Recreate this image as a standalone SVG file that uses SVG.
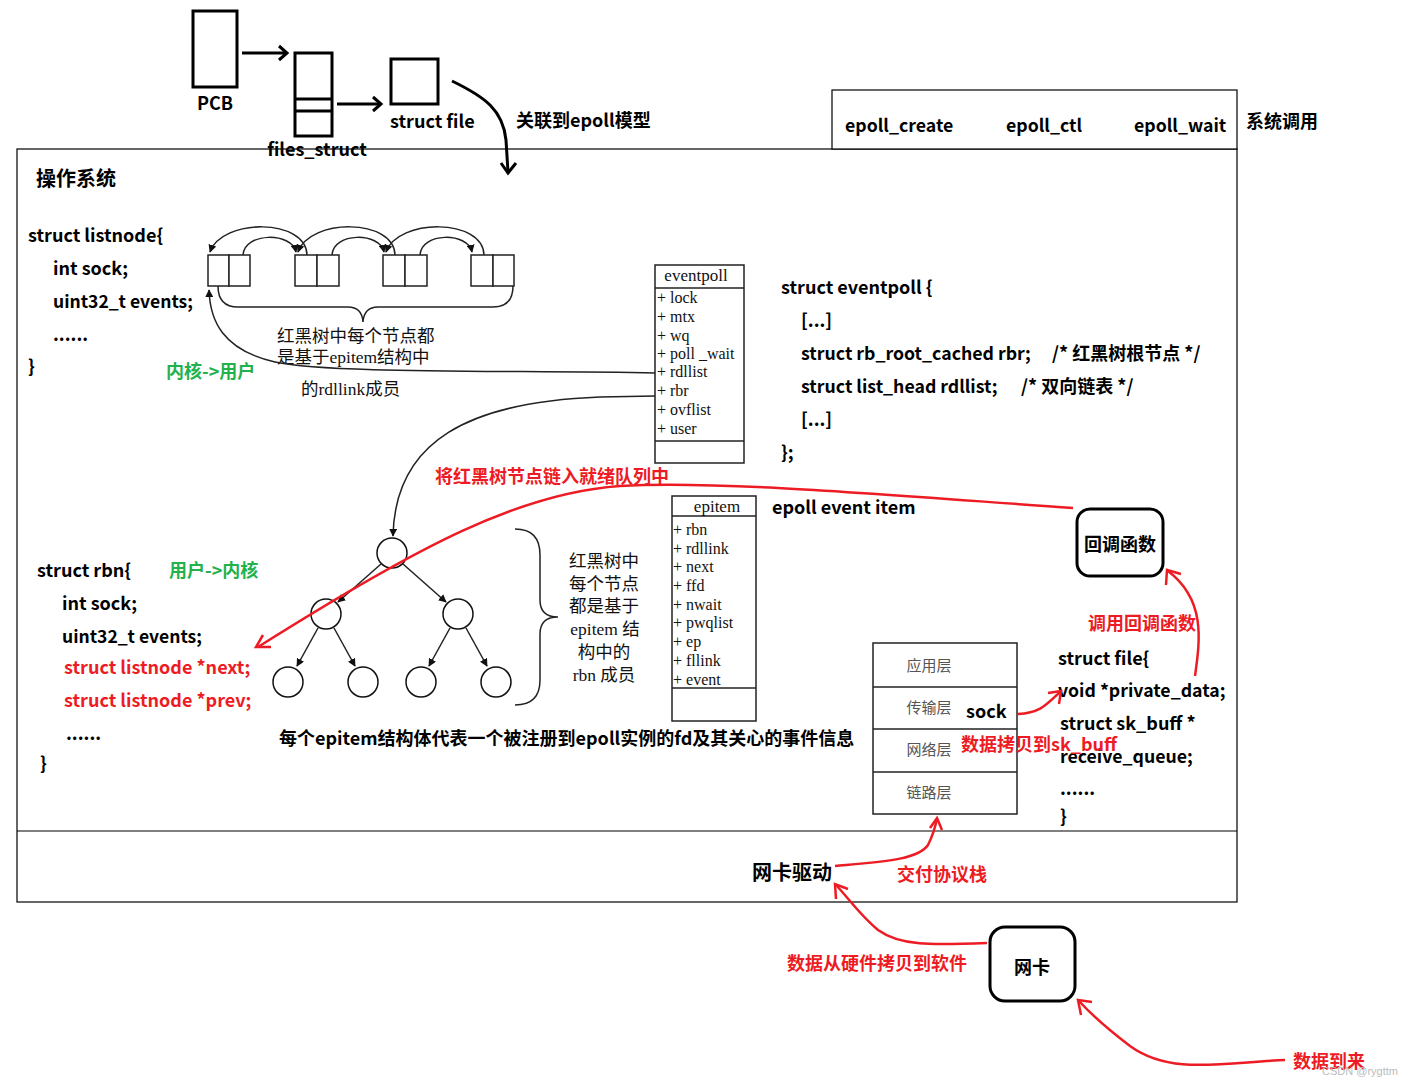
<svg xmlns="http://www.w3.org/2000/svg" width="1414" height="1086" viewBox="0 0 1414 1086">
<style>
.b{font-family:"Noto Sans CJK SC","Noto Sans",sans-serif;font-weight:bold;font-size:18px;fill:#000}
.red{fill:#ed1c24}
.grn{fill:#22b14c}
.s{font-family:"Liberation Serif","Noto Sans CJK SC",serif;font-size:16px;fill:#111}
.sc{font-family:"Liberation Serif","Noto Sans CJK SC",serif;font-size:17.5px;fill:#111}
.gray{font-family:"Noto Sans CJK SC",sans-serif;font-size:15px;fill:#555}
.thick{fill:none;stroke:#000;stroke-width:3}
.thin{fill:none;stroke:#222;stroke-width:1.5}
.rl{fill:none;stroke:#ed1c24;stroke-width:2.5}
.box{fill:#fff;stroke:#222;stroke-width:1.5}
</style>
<defs>
<marker id="fa" viewBox="0 0 10 10" refX="9" refY="5" markerWidth="8" markerHeight="8" orient="auto" markerUnits="userSpaceOnUse">
<path d="M0,0 L10,5 L0,10 z" fill="#111"/>
</marker>
</defs>
<rect width="1414" height="1086" fill="#fff"/>

<!-- OS frame -->
<g id="os-frame">
<rect x="17" y="149" width="1220" height="753" fill="none" stroke="#000" stroke-width="1.2"/>
<line x1="17" y1="831" x2="1237" y2="831" stroke="#000" stroke-width="1.2"/>
<text class="b" x="36" y="186" style="font-size:20px">操作系统</text>
</g>

<!-- syscall box -->
<g id="syscalls">
<rect x="832" y="90" width="405" height="59" fill="#fff" stroke="#000" stroke-width="1.2"/>
<text class="b" x="845" y="132" style="font-size:17.7px">epoll_create</text>
<text class="b" x="1006" y="132" style="font-size:17.7px">epoll_ctl</text>
<text class="b" x="1134" y="132" style="font-size:17.7px">epoll_wait</text>
<text class="b" x="1246" y="128">系统调用</text>
</g>

<!-- top: PCB -> files_struct -> struct file -->
<g id="pcb">
<rect class="thick" x="193" y="11" width="44" height="76"/>
<text class="b" x="215" y="110" text-anchor="middle">PCB</text>
</g>
<g id="files_struct">
<rect class="thick" x="295" y="53" width="37" height="83"/>
<line x1="295" y1="99" x2="332" y2="99" stroke="#000" stroke-width="3"/>
<line x1="295" y1="111" x2="332" y2="111" stroke="#000" stroke-width="3"/>
<text class="b" x="317" y="156" text-anchor="middle">files_struct</text>
</g>
<g id="struct_file">
<rect class="thick" x="391" y="59" width="47" height="45"/>
<text class="b" x="390" y="128">struct file</text>
</g>
<text class="b" x="516" y="127">关联到epoll模型</text>

<!-- listnode struct -->
<g id="listnode-struct">
<text class="b" x="28" y="242">struct listnode{</text>
<text class="b" x="53" y="275">int sock;</text>
<text class="b" x="53" y="308" style="font-size:17.5px">uint32_t events;</text>
<text class="b" x="53" y="341">......</text>
<text class="b" x="28" y="373">}</text>
<text class="b grn" x="166" y="378">内核-&gt;用户</text>
</g>

<!-- linked list -->
<g id="rdllist">
<rect class="box" x="208" y="255" width="21" height="31"/><rect class="box" x="229" y="255" width="21" height="31"/>
<rect class="box" x="295" y="255" width="22" height="31"/><rect class="box" x="317" y="255" width="22" height="31"/>
<rect class="box" x="383" y="255" width="22" height="31"/><rect class="box" x="405" y="255" width="22" height="31"/>
<rect class="box" x="471" y="255" width="22" height="31"/><rect class="box" x="493" y="255" width="21" height="31"/>
<path class="thin" d="M243,255 C244,232 292,232 296,252" marker-end="url(#fa)"/>
<path class="thin" d="M332,255 C333,232 380,232 384,252" marker-end="url(#fa)"/>
<path class="thin" d="M420,255 C421,232 468,232 472,252" marker-end="url(#fa)"/>
<path class="thin" d="M307,255 C306,218 222,218 210,252" marker-end="url(#fa)"/>
<path class="thin" d="M395,255 C394,218 310,218 298,252" marker-end="url(#fa)"/>
<path class="thin" d="M484,255 C483,218 398,218 386,252" marker-end="url(#fa)"/>
<path class="thin" d="M218,286 Q218,307 238,307 L348,307 Q362,307 363,322 Q364,307 378,307 L493,307 Q513,307 513,286"/>
<text class="sc" x="277" y="342">红黑树中每个节点都</text>
<text class="sc" x="277" y="363">是基于epitem结构中</text>
<text class="sc" x="301" y="395">的rdllink成员</text>
</g>

<!-- eventpoll box -->
<g id="eventpoll">
<rect class="box" x="655" y="265" width="89" height="198"/>
<line x1="655" y1="288" x2="744" y2="288" stroke="#222" stroke-width="1.5"/>
<line x1="655" y1="441" x2="744" y2="441" stroke="#222" stroke-width="1.5"/>
<text class="s" x="696" y="281" text-anchor="middle" style="font-size:17px">eventpoll</text>
<text class="s" x="657" y="303">+ lock</text>
<text class="s" x="657" y="322">+ mtx</text>
<text class="s" x="657" y="341">+ wq</text>
<text class="s" x="657" y="359">+ poll _wait</text>
<text class="s" x="657" y="377">+ rdllist</text>
<text class="s" x="657" y="396">+ rbr</text>
<text class="s" x="657" y="415">+ ovflist</text>
<text class="s" x="657" y="434">+ user</text>
</g>

<g id="eventpoll-code">
<text class="b" x="781" y="294">struct eventpoll {</text>
<text class="b" x="801" y="327">[...]</text>
<text class="b" x="801" y="360" style="font-size:17.7px">struct rb_root_cached rbr;</text>
<text class="b" x="1052" y="360">/* 红黑树根节点 */</text>
<text class="b" x="801" y="393" style="font-size:17.7px">struct list_head rdllist;</text>
<text class="b" x="1021" y="393">/* 双向链表 */</text>
<text class="b" x="801" y="426">[...]</text>
<text class="b" x="781" y="459">};</text>
</g>

<!-- epitem box -->
<g id="epitem">
<rect class="box" x="672" y="496" width="84" height="225"/>
<line x1="672" y1="516" x2="756" y2="516" stroke="#222" stroke-width="1.5"/>
<line x1="672" y1="688" x2="756" y2="688" stroke="#222" stroke-width="1.5"/>
<text class="s" x="717" y="512" text-anchor="middle" style="font-size:17px">epitem</text>
<text class="s" x="673" y="535">+ rbn</text>
<text class="s" x="673" y="554">+ rdllink</text>
<text class="s" x="673" y="572">+ next</text>
<text class="s" x="673" y="591">+ ffd</text>
<text class="s" x="673" y="610">+ nwait</text>
<text class="s" x="673" y="628">+ pwqlist</text>
<text class="s" x="673" y="647">+ ep</text>
<text class="s" x="673" y="666">+ fllink</text>
<text class="s" x="673" y="685">+ event</text>
<text class="b" x="772" y="514">epoll event item</text>
</g>

<!-- rbn struct -->
<g id="rbn-struct">
<text class="b" x="37" y="577">struct rbn{</text>
<text class="b grn" x="169" y="577">用户-&gt;内核</text>
<text class="b" x="62" y="610">int sock;</text>
<text class="b" x="62" y="643" style="font-size:17.5px">uint32_t events;</text>
<text class="b red" x="64" y="674">struct listnode *next;</text>
<text class="b red" x="64" y="707">struct listnode *prev;</text>
<text class="b" x="66" y="740">......</text>
<text class="b" x="40" y="770">}</text>
</g>

<!-- rb tree -->
<g id="rbtree">
<circle cx="392" cy="553" r="15" fill="#fff" stroke="#111" stroke-width="1.5"/>
<circle cx="326" cy="614" r="15" fill="#fff" stroke="#111" stroke-width="1.5"/>
<circle cx="458" cy="614" r="15" fill="#fff" stroke="#111" stroke-width="1.5"/>
<circle cx="288" cy="682" r="15" fill="#fff" stroke="#111" stroke-width="1.5"/>
<circle cx="363" cy="682" r="15" fill="#fff" stroke="#111" stroke-width="1.5"/>
<circle cx="421" cy="682" r="15" fill="#fff" stroke="#111" stroke-width="1.5"/>
<circle cx="496" cy="682" r="15" fill="#fff" stroke="#111" stroke-width="1.5"/>
<path d="M515,529 Q540,529 540,555 L540,600 Q540,617 558,617 Q540,617 540,634 L540,680 Q540,705 515,705" fill="none" stroke="#222" stroke-width="1.5"/>
<text class="sc" x="604" y="567" text-anchor="middle">红黑树中</text>
<text class="sc" x="604" y="590" text-anchor="middle">每个节点</text>
<text class="sc" x="604" y="612" text-anchor="middle">都是基于</text>
<text class="sc" x="605" y="635" text-anchor="middle">epitem 结</text>
<text class="sc" x="604" y="658" text-anchor="middle">构中的</text>
<text class="sc" x="604" y="681" text-anchor="middle">rbn 成员</text>
</g>
<text class="b" x="279" y="745">每个epitem结构体代表一个被注册到epoll实例的fd及其关心的事件信息</text>

<!-- protocol stack -->
<g id="protocol-stack">
<rect class="box" x="873" y="643" width="144" height="171"/>
<line x1="873" y1="687" x2="1017" y2="687" stroke="#222" stroke-width="1.5"/>
<line x1="873" y1="729" x2="1017" y2="729" stroke="#222" stroke-width="1.5"/>
<line x1="873" y1="772" x2="1017" y2="772" stroke="#222" stroke-width="1.5"/>
<text class="gray" x="929" y="671" text-anchor="middle">应用层</text>
<text class="gray" x="929" y="713" text-anchor="middle">传输层</text>
<text class="gray" x="929" y="755" text-anchor="middle">网络层</text>
<text class="gray" x="929" y="798" text-anchor="middle">链路层</text>
<text class="b" x="966" y="718">sock</text>
</g>

<g id="file-struct-code">
<text class="b" x="1058" y="665">struct file{</text>
<text class="b" x="1058" y="697" style="font-size:17.7px">void *private_data;</text>
<text class="b" x="1060" y="730">struct sk_buff *</text>
<text class="b" x="1060" y="763" style="font-size:17.7px">receive_queue;</text>
<text class="b" x="1060" y="795">......</text>
<text class="b" x="1060" y="823">}</text>
</g>

<!-- callback node -->
<g id="callback">
<rect x="1077" y="509" width="86" height="67" rx="13" fill="#fff" stroke="#000" stroke-width="3"/>
<text class="b" x="1120" y="551" text-anchor="middle">回调函数</text>
</g>

<!-- NIC driver & NIC -->
<g id="nic-driver">
<text class="b" x="752" y="880" style="font-size:20px">网卡驱动</text>
</g>
<g id="nic">
<rect x="990" y="927" width="85" height="74" rx="15" fill="#fff" stroke="#000" stroke-width="3"/>
<text class="b" x="1032" y="974" text-anchor="middle">网卡</text>
</g>

<!-- connectors -->
<g id="connectors">
<line x1="242" y1="53" x2="286" y2="53" stroke="#000" stroke-width="3"/>
<polyline class="thick" points="279,46 287,53 279,60"/>
<line x1="337" y1="104" x2="380" y2="104" stroke="#000" stroke-width="3"/>
<polyline class="thick" points="373,97 381,104 373,111"/>
<path class="thick" d="M452,81 C485,97 503,110 506,140 L508,172"/>
<polyline class="thick" points="501,163 508,173 516,163"/>
<path class="thin" d="M655,373 C520,370 330,374 275,362 C222,350 210,320 209,290" marker-end="url(#fa)"/>
<path class="thin" d="M655,396 L600,397 C470,402 395,440 393,536" marker-end="url(#fa)"/>
<line class="thin" x1="381" y1="564" x2="338" y2="602" marker-end="url(#fa)"/>
<line class="thin" x1="403" y1="564" x2="446" y2="602" marker-end="url(#fa)"/>
<line class="thin" x1="318" y1="628" x2="297" y2="666" marker-end="url(#fa)"/>
<line class="thin" x1="334" y1="628" x2="355" y2="666" marker-end="url(#fa)"/>
<line class="thin" x1="450" y1="628" x2="429" y2="666" marker-end="url(#fa)"/>
<line class="thin" x1="466" y1="628" x2="487" y2="666" marker-end="url(#fa)"/>

<path class="rl" d="M1073,508 C900,496 720,480 620,486 C520,493 420,545 258,647"/>
<polyline class="rl" points="263,635 256,647 271,647"/>
<text class="b red" x="435" y="483">将红黑树节点链入就绪队列中</text>

<path class="rl" d="M1195,676 C1200,640 1206,600 1168,571"/>
<polyline class="rl" points="1166,585 1167,570 1181,574"/>
<text class="b red" x="1088" y="630">调用回调函数</text>

<path class="rl" d="M1018,714 C1040,713 1046,705 1060,692"/>
<polyline class="rl" points="1048,693 1061,691 1059,704"/>
<text class="b red" x="961" y="751">数据拷贝到sk_buff</text>

<path class="rl" d="M835,866 C880,862 918,860 928,845 C933,835 935,828 937,819"/>
<polyline class="rl" points="930,828 937,818 942,830"/>
<text class="b red" x="897" y="881">交付协议栈</text>

<path class="rl" d="M987,943 C930,945 900,946 878,930 C860,915 850,900 836,885"/>
<polyline class="rl" points="836,899 835,884 848,889"/>
<text class="b red" x="787" y="970">数据从硬件拷贝到软件</text>

<path class="rl" d="M1285,1060 C1220,1063 1170,1075 1130,1046 C1105,1027 1090,1013 1079,1001"/>
<polyline class="rl" points="1081,1015 1078,1000 1092,1002"/>
<text class="b red" x="1293" y="1068">数据到来</text>
</g>
<text x="1322" y="1075" font-family="Liberation Sans,sans-serif" font-size="11" fill="#bbb">CSDN @rygttm</text>
</svg>
